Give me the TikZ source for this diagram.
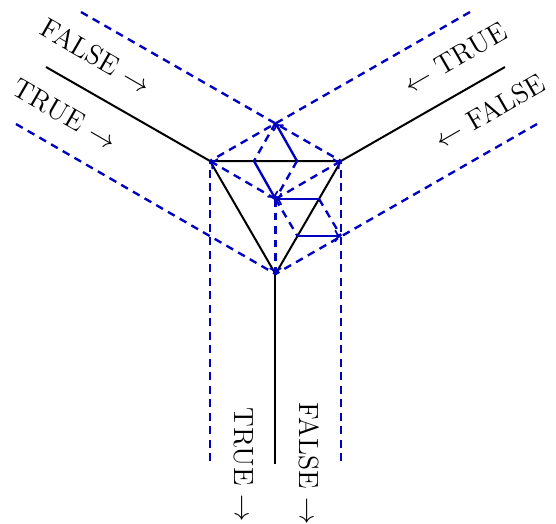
\documentclass[tikz,border=0pt]{standalone}
\usetikzlibrary{arrows.meta}
\tikzset{
  px/.style={x=0.4pt,y=-0.4pt},
  wire/.style={black,line width=0.8pt},
  guide/.style={blue!75!black,line width=0.95pt,dash pattern=on 3.1pt off 2.3pt},
  guidetip/.style={guide,-{Computer Modern Rightarrow[length=2.6pt,width=5pt,line width=0.7pt]}},
  ray/.style={blue!75!black,line width=0.95pt},
  raytip/.style={ray,-{Computer Modern Rightarrow[length=2.6pt,width=5pt,line width=0.7pt]}},
  lab/.style={inner sep=0pt,anchor=center,font=\fontsize{11.1}{13}\selectfont}
}
\begin{document}
\begin{tikzpicture}[px]
\useasboundingbox (0,0) rectangle (556,523);
\coordinate (A) at (210,161);
\coordinate (B) at (341,161);
\coordinate (C) at (275.5,274);
\coordinate (O) at (275.5,199);
\coordinate (D) at (275.5,123);
\coordinate (P) at (254,161);
\coordinate (Q) at (297,161);
\coordinate (R) at (319,199);
\coordinate (S) at (341,236);
\coordinate (T) at (297.5,236);
\coordinate (a1) at (46,67);
\coordinate (b1) at (505,67);
\coordinate (c1) at (275.5,464);
\coordinate (g1) at (81,12);
\coordinate (g2) at (470,12);
\coordinate (g3) at (16,124);
\coordinate (g4) at (537,124);
\coordinate (g5) at (210,461);
\coordinate (g6) at (341,461);
\draw[wire] (a1) -- (A) -- (B) -- (b1);
\draw[wire] (A) -- (C) -- (B);
\draw[wire] (C) -- (c1);
\draw[guide] (g1) -- (B);
\draw[guide] (g2) -- (A);
\draw[guide] (g3) -- (C);
\draw[guide] (g4) -- (C);
\draw[guide] (g5) -- (A);
\draw[guide] (g6) -- (B);
\draw[guidetip] (O) -- (A);
\draw[guidetip] (O) -- (B);
\draw[guidetip] (O) -- (C);
\draw[guide] (D) -- (P);
\draw[guide] (Q) -- (O);
\draw[guide] (R) -- (S);
\draw[guide] (O) -- (T);
\draw[raytip] (Q) -- (D);
\draw[raytip] (P) -- (O);
\draw[raytip] (R) -- (O);
\draw[raytip] (T) -- (S);
\node[lab,rotate=-30] (l1) at (96,56) {FALSE $\to$};
\node[lab,rotate=-30] (l2) at (65,114.5) {TRUE $\to$};
\node[lab,rotate=30] (l3) at (455,58) {$\gets$ TRUE};
\node[lab,rotate=30] (l4) at (490,111) {$\gets$ FALSE};
\node[lab,rotate=-90] (l5) at (244,465) {TRUE $\to$};
\node[lab,rotate=-90] (l6) at (309.5,464) {FALSE $\to$};
\end{tikzpicture}
\end{document}
